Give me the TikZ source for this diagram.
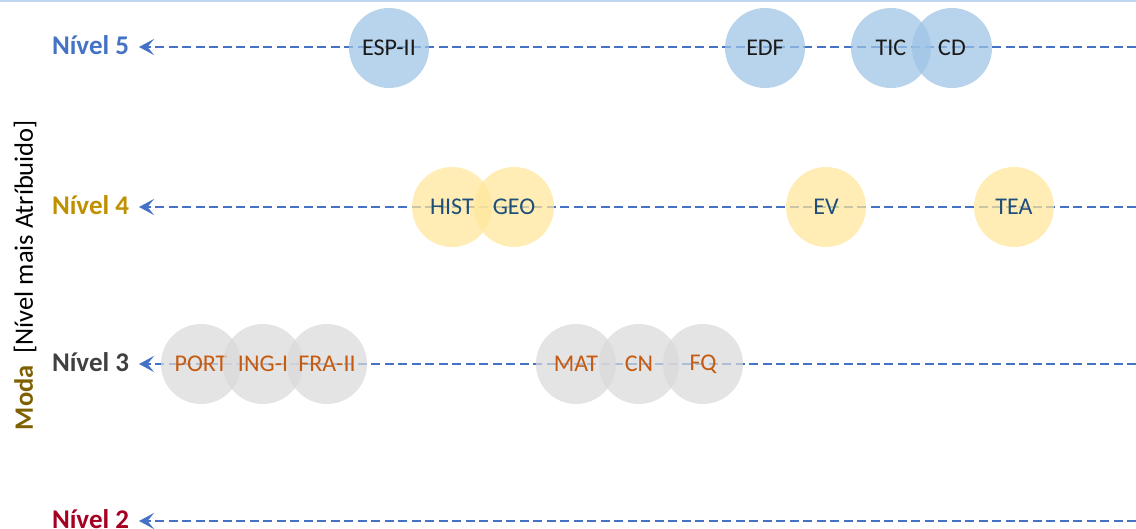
\documentclass[tikz,border=0pt]{standalone}
\usepackage{fontspec}
\setmainfont{Carlito}
\usetikzlibrary{arrows.meta}
\definecolor{lineblue}{HTML}{4472C4}
\definecolor{topblue}{HTML}{BDD7EE}
\definecolor{cblue}{HTML}{9DC3E6}
\definecolor{cyellow}{HTML}{FFE699}
\definecolor{cgrey}{HTML}{D9D9D9}
\definecolor{lvfive}{HTML}{4472C4}
\definecolor{lvfour}{HTML}{BF9000}
\definecolor{lvthree}{HTML}{404040}
\definecolor{lvtwo}{HTML}{A50021}
\definecolor{modacol}{HTML}{7F6000}
\definecolor{tfive}{HTML}{1A1A1A}
\definecolor{tfour}{HTML}{1F4E79}
\definecolor{tthree}{HTML}{C55A11}
\tikzset{
  levlabel/.style={font=\fontsize{27}{30}\selectfont\bfseries, inner sep=0pt, outer sep=0pt, anchor=east},
  levline/.style={draw=lineblue, line width=2.8pt, dash pattern=on 9pt off 4.5pt,
     -{Stealth[length=15pt,width=16pt,inset=6.5pt]}},
  subj/.style={circle, minimum size=80pt, inner sep=0pt, fill opacity=0.72, text opacity=1,
     font=\fontsize{24}{26}\selectfont},
  sfive/.style={subj, fill=cblue, text=tfive},
  sfour/.style={subj, fill=cyellow, text=tfour},
  sthree/.style={subj, fill=cgrey, text=tthree},
}
\begin{document}
\begin{tikzpicture}[x=1pt,y=-1pt]
\useasboundingbox (0,0) rectangle (1136,529);
\draw[topblue, line width=2.5pt] (0,1) -- (1136,1);
% labels
\node[levlabel, text=lvfive]  (l5) at (129,45) {Nível 5};
\node[levlabel, text=lvfour]  (l4) at (129,205) {Nível 4};
\node[levlabel, text=lvthree] (l3) at (129,362) {Nível 3};
\node[levlabel, text=lvtwo]   (l2) at (129,519) {Nível 2};
\node[rotate=90, inner sep=0pt, font=\fontsize{26.5}{28}\selectfont] (axis) at (25,275)
  {\textcolor{modacol}{\bfseries Moda}\hspace{0.45em}[Nível mais Atríbuido]};
% right ends
\coordinate (r5) at (1136,47);
\coordinate (r4) at (1136,207);
\coordinate (r3) at (1136,364);
\coordinate (r2) at (1136,521);
\coordinate (e5) at (139,47);
\coordinate (e4) at (139,207);
\coordinate (e3) at (139,364);
\coordinate (e2) at (139,521);
\draw[levline] (r5) -- (e5);
\draw[levline] (r4) -- (e4);
\draw[levline] (r3) -- (e3);
\draw[levline] (r2) -- (e2);
% level 5
\node[sfive] (esp) at (389,48) {ESP-II};
\node[sfive] (edf) at (765,48) {EDF};
\node[sfive] (tic) at (891,48) {TIC};
\node[sfive] (cd)  at (952,48) {CD};
% level 4
\node[sfour] (hist) at (452,207) {HIST};
\node[sfour] (geo)  at (514,207) {GEO};
\node[sfour] (ev)   at (826,207) {EV};
\node[sfour] (tea)  at (1014,207) {TEA};
% level 3
\node[sthree] (port) at (201,364) {PORT};
\node[sthree] (ing)  at (263,364) {ING-I};
\node[sthree] (fra)  at (327,364) {FRA-II};
\node[sthree] (mat)  at (576,364) {MAT};
\node[sthree] (cn)   at (639,364) {CN};
\node[sthree] (fq)   at (703,364) {FQ};
\end{tikzpicture}
\end{document}
